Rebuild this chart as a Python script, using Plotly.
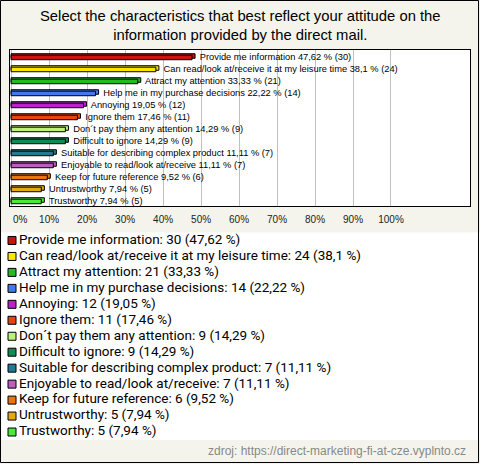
import plotly.graph_objects as go

categories = [
    "Provide me information",
    "Can read/look at/receive it at my leisure time",
    "Attract my attention",
    "Help me in my purchase decisions",
    "Annoying",
    "Ignore them",
    "Don´t pay them any attention",
    "Difficult to ignore",
    "Suitable for describing complex product",
    "Enjoyable to read/look at/receive",
    "Keep for future reference",
    "Untrustworthy",
    "Trustworthy",
]
counts = [30, 24, 21, 14, 12, 11, 9, 9, 7, 7, 6, 5, 5]
percents = [47.62, 38.1, 33.33, 22.22, 19.05, 17.46, 14.29, 14.29, 11.11, 11.11, 9.52, 7.94, 7.94]
colors = ["#c8140a", "#ffe600", "#22bb22", "#4477ee", "#bb22cc", "#e8440f", "#bbf27a",
          "#128a55", "#217a92", "#bb5fbf", "#e87412", "#e2aa14", "#4ee83c"]
tick_vals = [0, 10, 20, 30, 40, 50, 60, 70, 80, 90, 100]
tick_text = [f"{v}%" for v in tick_vals]


def fmt(p):
    return f"{p:g}".replace(".", ",")


W, H = 480, 464
BG = "#f4f4ec"
TICKFONT = dict(family="Liberation Sans", size=10, color="#222")

fig = go.Figure()
idx = list(range(len(categories)))

# 3D "depth" face behind each bar
fig.add_trace(go.Bar(
    x=[p + 0.8 for p in percents], y=idx, orientation="h",
    marker=dict(color=colors, line=dict(color="black", width=1)),
    width=0.38, offset=-0.24,
    xaxis="x", yaxis="y", showlegend=False, hoverinfo="skip",
))

bar_text = [f"   {c} {fmt(p)} % ({n})" for c, p, n in zip(categories, percents, counts)]
fig.add_trace(go.Bar(
    x=percents, y=idx, orientation="h",
    marker=dict(color=colors, line=dict(color="black", width=1)),
    width=0.38, offset=-0.12,
    text=bar_text, textposition="outside", cliponaxis=False, constraintext="none",
    textfont=dict(family="Liberation Sans", size=9.3, color="black"),
    xaxis="x", yaxis="y", showlegend=False, hoverinfo="skip",
))

fig.add_trace(go.Scatter(
    x=[12] * len(categories), y=idx, mode="markers",
    marker=dict(symbol="square", size=8, color=colors, line=dict(color="black", width=1)),
    xaxis="x2", yaxis="y2", showlegend=False, hoverinfo="skip", cliponaxis=False,
))
leg_text = [f"{c}: {n} ({fmt(p)} %)" for c, p, n in zip(categories, percents, counts)]
fig.add_trace(go.Scatter(
    x=[19] * len(categories), y=idx, mode="text",
    text=leg_text, textposition="middle right",
    textfont=dict(family="Roboto", size=13.5, color="black"),
    xaxis="x2", yaxis="y2", showlegend=False, hoverinfo="skip", cliponaxis=False,
))


def py(pix):
    return 1 - pix / H


fig.update_layout(
    width=W, height=H,
    margin=dict(l=0, r=0, t=0, b=0, autoexpand=False),
    paper_bgcolor=BG, plot_bgcolor="white",
    showlegend=False, barmode="overlay",
    xaxis=dict(domain=[10 / W, 470 / W], range=[-0.3, 120.8], tickvals=tick_vals,
               ticktext=["" if v == 0 else t for v, t in zip(tick_vals, tick_text)],
               automargin=False,
               showgrid=True, gridcolor="#c0c0c0", gridwidth=1, zeroline=False,
               showline=True, linecolor="black", linewidth=1, mirror=True,
               ticks="outside", ticklen=4, tickcolor=BG, tickfont=TICKFONT),
    yaxis=dict(domain=[py(206), py(50)], range=[12.45, -0.55], showticklabels=False, automargin=False,
               showgrid=False, zeroline=False, showline=True, linecolor="black", linewidth=1, mirror=True),
    xaxis2=dict(domain=[0, 1], range=[0, W], visible=False, anchor="y2", automargin=False),
    yaxis2=dict(domain=[py(440), py(232.5)], range=[12.5, -0.5], visible=False, anchor="x2", automargin=False),
    annotations=[
        dict(text="Select the characteristics that best reflect your attitude on the<br>information provided by the direct mail.",
             x=0.5, y=py(26), xref="paper", yref="paper", xanchor="center", yanchor="middle",
             showarrow=False, font=dict(family="Liberation Sans", size=14.8, color="black"), align="center"),
        dict(text=tick_text[0], x=tick_vals[0], xref="x", y=py(219.5), yref="paper",
             xanchor="left", yanchor="middle", showarrow=False, font=TICKFONT),
        dict(text="zdroj: https://direct-marketing-fi-at-cze.vyplnto.cz",
             x=468 / W, y=py(451), xref="paper", yref="paper", xanchor="right", yanchor="middle",
             showarrow=False, font=dict(family="Liberation Sans", size=12, color="#888888")),
    ],
    shapes=[dict(type="rect", xref="paper", yref="paper", x0=0.5 / W, x1=1 - 1.5 / W,
                 y0=1.5 / H, y1=1 - 0.5 / H, line=dict(color="black", width=1))],
)

fig.write_html("out.html", config={"displayModeBar": False},
               post_script="document.body.style.margin='0';document.body.style.padding='0';")
